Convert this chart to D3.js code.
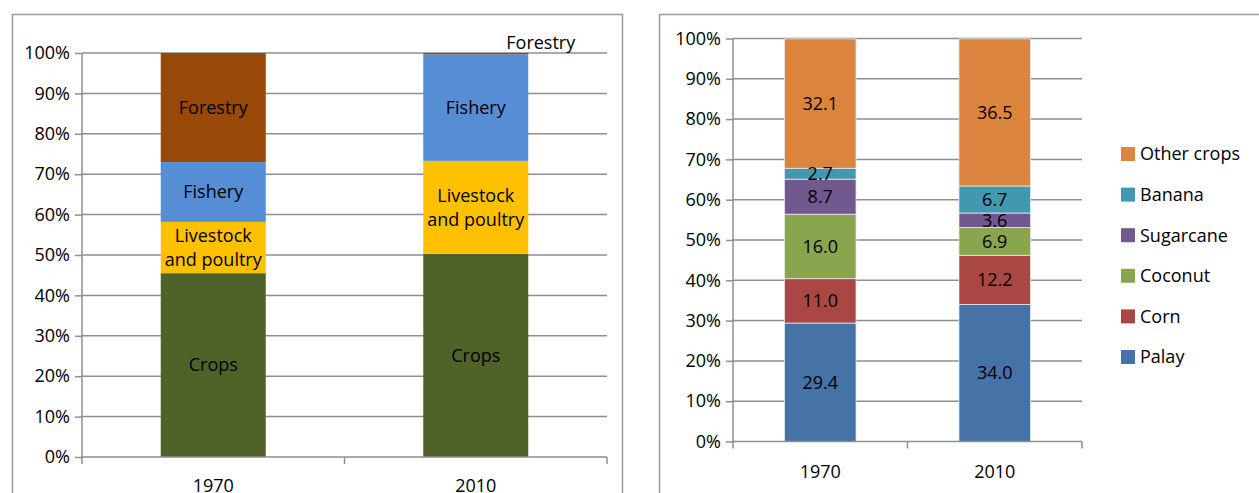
<!DOCTYPE html>
<meta charset="utf-8">
<style>
  body { margin: 0; background: #fff; }
  svg text { font-family: "Open Sans", sans-serif; fill: #000; }
  .grid line { stroke: #8e8e8e; stroke-width: 1.5; }
  .axis path, .axis line { stroke: #8e8e8e; stroke-width: 1.5; }
</style>
<body>
<svg id="chart"></svg>
<script src="https://cdn.jsdelivr.net/npm/d3@7"></script>
<script>
  // left chart: share by sector
  var years = ["1970", "2010"];
  var sectors = ["Crops", "Livestock and poultry", "Fishery", "Forestry"];
  var sectorColors = ["#4f6228", "#ffc000", "#558ed5", "#984807"];
  var crops1970 = [45.5, 12.7, 14.8, 27.0];
  var crops2010 = [50.3, 23.0, 26.4, 0.3];

  // right chart: crops breakdown
  var cropNames = ["Palay", "Corn", "Coconut", "Sugarcane", "Banana", "Other crops"];
  var cropColors = ["#4572a7", "#aa4643", "#89a54e", "#71588f", "#4198af", "#db843d"];
  var detail1970 = [29.4, 11.0, 16.0, 8.7, 2.7, 32.1];
  var detail2010 = [34.0, 12.2, 6.9, 3.6, 6.7, 36.5];

  var yTicks = [0, 10, 20, 30, 40, 50, 60, 70, 80, 90, 100];
  var fs = "18px";

  var svg = d3.select("#chart").attr("width", 1259).attr("height", 493);

  // chart frames (cut off at the bottom, as in the screenshot)
  svg.append("rect").attr("x", 12.5).attr("y", 14.5).attr("width", 610).attr("height", 500)
    .attr("fill", "none").attr("stroke", "#9a9a9a").attr("stroke-width", 1.5);
  svg.append("rect").attr("x", 659.5).attr("y", 14.5).attr("width", 620).attr("height", 500)
    .attr("fill", "none").attr("stroke", "#9a9a9a").attr("stroke-width", 1.5);

  function stacked(values) {
    var acc = 0;
    return values.map(function(v, i) {
      var s = { i: i, v: v, y0: acc, y1: acc + v };
      acc += v;
      return s;
    });
  }

  function drawPanel(opt) {
    var g = svg.append("g");
    var x = d3.scaleBand().domain(years).range([opt.left, opt.right]).paddingInner(opt.pad).paddingOuter(opt.pad / 2);
    var xb = d3.scaleBand().domain(years).range([opt.left, opt.right]);
    var y = d3.scaleLinear().domain([0, 100]).range([opt.bottom, opt.top]);

    // gridlines
    g.append("g").attr("class", "grid")
      .selectAll("line").data(yTicks.slice(1)).enter().append("line")
      .attr("x1", opt.left).attr("x2", opt.right)
      .attr("y1", function(d) { return y(d); }).attr("y2", function(d) { return y(d); });

    // y axis
    var ya = g.append("g").attr("class", "axis").attr("transform", "translate(" + opt.left + ",0)")
      .call(d3.axisLeft(y).tickValues(yTicks).tickFormat(function(d) { return d + "%"; }).tickSize(7).tickPadding(5));
    ya.select(".domain").attr("d", "M0," + opt.top + "V" + opt.bottom);
    ya.selectAll("text").style("font-size", fs);

    // bars
    opt.series.forEach(function(vals, yi) {
      var segs = stacked(vals);
      g.selectAll(".bar" + yi).data(segs).enter().append("rect")
        .attr("x", x(years[yi]))
        .attr("width", x.bandwidth())
        .attr("y", function(d) { return y(d.y1); })
        .attr("height", function(d) { return y(d.y0) - y(d.y1); })
        .attr("fill", function(d) { return opt.colors[d.i]; })
        .attr("stroke", opt.barStroke || "none")
        .attr("stroke-width", 0.8);
      opt.labels(g, segs, x(years[yi]) + x.bandwidth() / 2, y, yi);
    });

    // x axis
    g.append("line").attr("class", "axisline")
      .attr("x1", opt.left).attr("x2", opt.right).attr("y1", opt.bottom).attr("y2", opt.bottom)
      .attr("stroke", "#8e8e8e").attr("stroke-width", 1.5);
    var edges = [opt.left].concat(years.map(function(d) { return xb(d) + xb.bandwidth(); }));
    g.selectAll(".xt").data(edges).enter().append("line")
      .attr("x1", function(d) { return d; }).attr("x2", function(d) { return d; })
      .attr("y1", opt.bottom).attr("y2", opt.bottom + 7)
      .attr("stroke", "#8e8e8e").attr("stroke-width", 1.5);
    g.selectAll(".xl").data(years).enter().append("text")
      .attr("x", function(d) { return xb(d) + xb.bandwidth() / 2; })
      .attr("y", opt.bottom + opt.catOffset)
      .attr("text-anchor", "middle").style("font-size", fs)
      .text(function(d) { return d; });
    return g;
  }

  // left panel
  drawPanel({
    left: 82, right: 607, top: 53, bottom: 457, pad: 0.6,
    series: [crops1970, crops2010], colors: sectorColors, catOffset: 35,
    labels: function(g, segs, cx, y, yi) {
      segs.forEach(function(s) {
        var name = sectors[s.i];
        var mid = y((s.y0 + s.y1) / 2);
        if (s.v < 2) {
          g.append("text").attr("x", cx + 65).attr("y", y(s.y1) - 4)
            .attr("text-anchor", "middle").style("font-size", fs).text(name);
          return;
        }
        var lines = name === "Livestock and poultry" ? ["Livestock", "and poultry"] : [name];
        lines.forEach(function(t, li) {
          g.append("text").attr("x", cx)
            .attr("y", mid + (li - (lines.length - 1) / 2) * 24)
            .attr("dy", "0.35em").attr("text-anchor", "middle")
            .style("font-size", fs).text(t);
        });
      });
    }
  });

  // right panel
  drawPanel({
    left: 733, right: 1082, top: 38.5, bottom: 441.5, pad: 0.59,
    series: [detail1970, detail2010], colors: cropColors, barStroke: "#e8e8e8", catOffset: 36,
    labels: function(g, segs, cx, y) {
      g.selectAll(null).data(segs).enter().append("text")
        .attr("x", cx)
        .attr("y", function(d) { return y((d.y0 + d.y1) / 2); })
        .attr("dy", "0.35em").attr("text-anchor", "middle")
        .style("font-size", fs)
        .text(function(d) { return d.v.toFixed(1); });
    }
  });

  // legend (reverse order, top = Other crops)
  var legendRows = cropNames.slice().reverse();
  var ly = d3.scalePoint().domain(legendRows).range([154, 357]);
  var lg = svg.append("g");
  lg.selectAll("rect").data(legendRows).enter().append("rect")
    .attr("x", 1121).attr("y", function(d) { return ly(d) - 7; })
    .attr("width", 14).attr("height", 14)
    .attr("fill", function(d) { return cropColors[cropNames.indexOf(d)]; });
  lg.selectAll("text").data(legendRows).enter().append("text")
    .attr("x", 1140).attr("y", function(d) { return ly(d); }).attr("dy", "0.35em")
    .style("font-size", fs)
    .text(function(d) { return d; });
</script>
</body>
